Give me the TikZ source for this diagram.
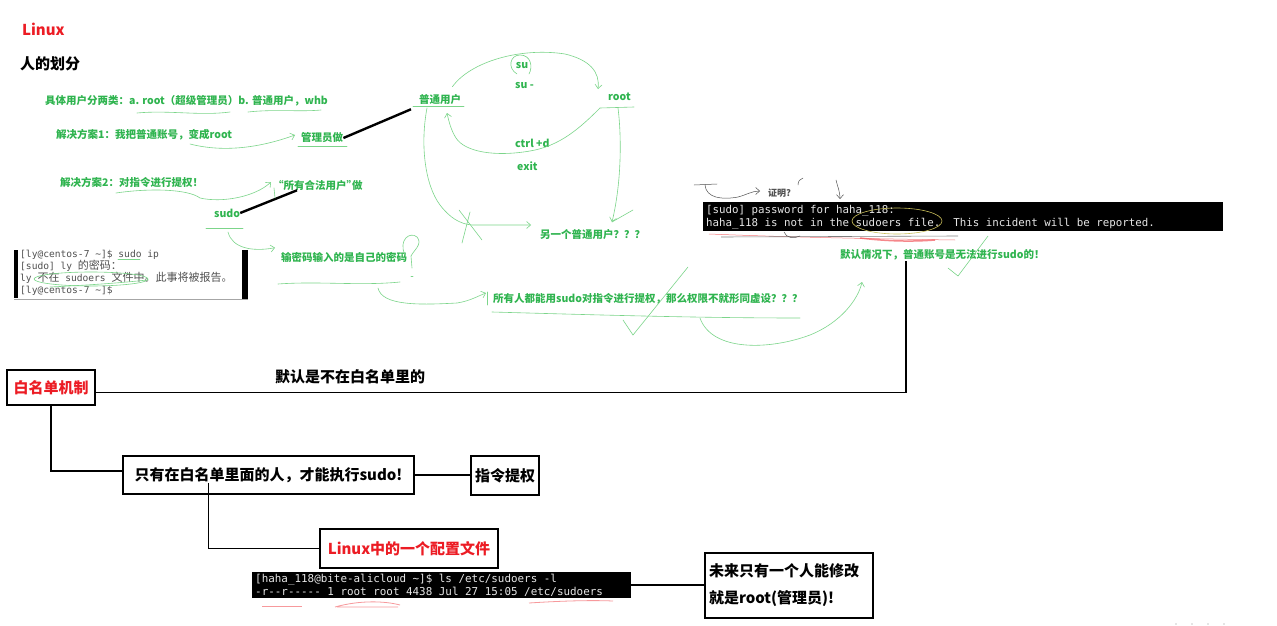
\documentclass[tikz,border=0pt]{standalone}
\usepackage{fontspec}
\setmainfont{Noto Sans CJK SC}
\setmonofont{DejaVu Sans Mono}
\usetikzlibrary{arrows.meta,calc}
\definecolor{NoteGreen}{HTML}{2FB44F}
\definecolor{InkGreen}{HTML}{7CD58A}
\definecolor{MarkRed}{HTML}{EC1C24}
\definecolor{InkRed}{HTML}{F2555A}
\definecolor{InkYellow}{HTML}{C9BE5A}
\definecolor{TermText}{HTML}{E6E6E6}
\definecolor{TermGray}{HTML}{505050}
\newcommand\termcjk[1]{{\rmfamily\fontsize{11}{12}\selectfont #1}}

\begin{document}
\begin{tikzpicture}[x=1pt,y=-1pt,
  note/.style={anchor=west,inner sep=0pt,text=NoteGreen,font=\bfseries\fontsize{10.5}{12}\selectfont},
  head/.style={anchor=west,inner sep=0pt,font=\bfseries\fontsize{15}{18}\selectfont},
  box/.style={draw,line width=1.5pt,inner sep=0pt,font=\bfseries\fontsize{15}{18}\selectfont},
  term/.style={fill=black,text=TermText,anchor=north west,inner xsep=3pt,inner ysep=0pt,align=flush left,font=\ttfamily\fontsize{10.8}{13}\selectfont},
  link/.style={line width=1.5pt},
  ink/.style={InkGreen,line width=.6pt,line cap=round},
  pen/.style={TermGray,line width=.5pt,line cap=round},
  tip/.style={-{Straight Barb[length=4pt,width=7pt]}}]
\path[use as bounding box,fill=white] (0,0) rectangle (1277,626);
\node[head,text=MarkRed] (ttl) at (22,29) {Linux};
\node[head] (sec) at (20,64) {人的划分};
\node[note] (kinds) at (45,101) {具体用户分两类：a. root（超级管理员）b. 普通用户，whb};
\node[note] (plan1) at (56,135) {解决方案1：我把普通账号，变成root};
\node[note] (mgr) at (301,138) {管理员做};
\node[note] (plan2) at (60,182) {解决方案2：对指令进行提权！};
\node[note] (legal) at (278,185) {\hspace*{-5pt}“所有合法用户”\hspace{-5pt}做};
\node[note] (sudo) at (214,213) {sudo};
\node[note] (pwd) at (281,257) {输密码输入的是自己的密码};
\node[note] (all) at (493,299) {所有人都能用sudo对指令进行提权，那么权限不就形同虚设？？？};
\node[note] (norm) at (419,100) {普通用户};
\node[note,anchor=center] (su) at (522,66) {su};
\node[note] (sudash) at (515,86) {su -};
\node[note] (root) at (608,97) {root};
\node[note] (ctrl) at (515,143) {ctrl +d};
\node[note] (exit) at (517,166) {exit};
\node[note] (other) at (540,235) {另一个普通用户？？？};
\node[note] (dflt) at (840,255) {默认情况下，普通账号是无法进行sudo的！};
\node[anchor=west,inner sep=0pt,text=TermGray,font=\bfseries\fontsize{9}{10}\selectfont] (proof) at (768,193) {证明?};
\draw[line width=2.4pt] (mgr.east) -- ($(norm.south west)+(-8,4)$);
\draw[line width=2.4pt] (sudo.east) -- ($(legal.south west)+(19,0)$);
\draw[ink] (137,113) .. controls (170,110) and (200,116) .. (230,112);
\draw[ink] (248,112) .. controls (275,109) and (300,112) .. (321,110);
\draw[ink,tip] (190,144) .. controls (225,153) and (262,147) .. ($(mgr.west)+(-6,-3)$);
\draw[ink] (298,146) -- (347,146);
\draw[ink] (413,106) -- (464,106);
\draw[ink,tip] (116,193) .. controls (150,188) and (188,189) .. (200,198) .. controls (222,203) and (255,197) .. ($(legal.west)+(-7,-3)$);
\draw[ink] (274,188) -- (275,198);
\draw[ink] (206,228) -- (243,228);
\draw[ink,tip] (228,232) .. controls (232,248) and (252,252) .. ($(pwd.north west)+(-6,-4)$);
\draw[ink] (405,255) .. controls (398,240) and (410,231) .. (417,237) .. controls (423,244) and (414,250) .. (411,256) -- (412,268);
\draw[ink] (411,276) -- (413,276);
\draw[ink] (278,284) .. controls (320,281) and (360,286) .. (400,282);
\draw[ink,tip] (378,288) .. controls (382,306) and (420,305) .. (457,303) .. controls (470,301) and (478,296) .. ($(all.west)+(-7,-6)$);
\draw[ink] (487,292) -- (487,305);
\draw[ink] (492,312) .. controls (600,315) and (700,318) .. (800,318);
\draw[ink] (623,320) -- (633,335) -- (688,267);
\draw[ink,tip] (700,318) .. controls (712,352) and (770,350) .. (810,335) .. controls (840,323) and (858,300) .. (862,282);
\draw[ink] (948,268) -- (958,276) -- (988,236);
\draw[ink,tip] ($(norm.north east)+(-9,-8)$) .. controls (470,62) and (520,47) .. (565,54) .. controls (590,60) and (600,72) .. (598,89);
\draw[ink] (517,74) .. controls (507,68) and (510,55) .. (520,55) .. controls (531,55) and (533,67) .. (529,74);
\draw[ink] (600,108) -- (634,107);
\draw[ink,tip] (600,108) .. controls (580,128) and (560,146) .. (530,151) .. controls (495,157) and (465,152) .. (456,138) .. controls (451,130) and (449,122) .. (447,113);
\draw[ink,tip] (427,108) .. controls (420,145) and (425,185) .. (440,205) .. controls (450,218) and (460,224) .. (472,225) -- ($(other.west)+(-9,-10)$);
\draw[ink] (459,210) -- (482,240) (470,212) -- (462,243);
\draw[ink,tip] (618,108) .. controls (622,140) and (621,185) .. (612,222);
\draw[ink] (612,222) -- (633,210);
\draw[pen] (694,185) -- (717,184);
\draw[pen,tip] (705,185) .. controls (706,198) and (722,200) .. (738,197) .. controls (746,195) and (752,191) .. ($(proof.west)+(-8,-2)$);
\draw[pen] (798,185) .. controls (798,181) and (800,179) .. (803,178);
\draw[pen,tip] (836,180) .. controls (838,188) and (840,192) .. (840,199);
\node[term,minimum width=520,minimum height=29,text width=514] (pw) at (703,202) {[sudo] password for haha\_118:\\haha\_118 is not in the sudoers file.\ \ This incident will be reported.};
\draw[InkYellow,line width=.6pt] (897,221) ellipse[x radius=45,y radius=13];
\draw[InkRed,line width=.5pt,opacity=.8] (709,234) .. controls (760,236) and (820,238) .. (955,240);
\draw[InkRed,line width=1.5pt,opacity=.7] (860,238) .. controls (885,241) and (910,242) .. (935,240);
\draw[gray,line width=.6pt] (721,237) -- (958,236);
\draw[pen] (784,232) .. controls (786,238) and (794,239) .. (800,236);
\node[anchor=north west,inner sep=0pt,align=left,text=TermGray,font=\ttfamily\fontsize{9.6}{12}\selectfont] (cent) at (20,250) {[ly@centos-7 \textasciitilde]\$ sudo ip\\\relax[sudo] ly \termcjk{的密码：}\\ly \termcjk{不在} sudoers \termcjk{文件中。此事将被报告。}\\\relax[ly@centos-7 \textasciitilde]\$};
\fill (14,250) rectangle (18,298);
\fill (242,250) rectangle (248,300);
\draw[gray!70,line width=.8pt] (14,299.5) -- (248,299.5);
\draw[ink] (118,259) -- (140,259);
\draw[ink] (91,279) ellipse[x radius=57,y radius=7];
\draw[ink] (50,287) .. controls (90,285) and (120,283) .. (147,280);
\node[box,text=MarkRed,minimum width=88,minimum height=35] (wl) at (51,387.5) {白名单机制};
\node[head] (notin) at (275,377) {默认是不在白名单里的};
\node[box,minimum width=291,minimum height=38] (only) at (268.5,475) {只有在白名单里面的人，才能执行sudo!};
\node[box,minimum width=68,minimum height=39] (cmd) at (505,475.5) {指令提权};
\node[box,text=MarkRed,minimum width=178,minimum height=39] (conf) at (409,548.5) {Linux中的一个配置文件};
\node[term,minimum width=379,minimum height=26,text width=373,font=\ttfamily\fontsize{10.9}{13}\selectfont] (ls) at (252,572) {[haha\_118@bite-alicloud \textasciitilde]\$ ls /etc/sudoers -l\\-r--r----- 1 root root 4438 Jul 27 15:05 /etc/sudoers};
\node[box,align=left,inner xsep=4pt,text width=160,minimum height=65,font=\bfseries\fontsize{15}{27}\selectfont] (future) at (789,585.5) {未来只有一个人能修改\\就是root(管理员)!};
\draw[link] ($(wl.east)+(0,5)$) -| ($(dflt.south west)+(66,0)$);
\draw[link] (wl.south) |- ($(only.west)+(0,-4)$);
\draw[link] (only.east) -- (only.east -| cmd.west);
\draw[link] ($(only.south west)+(86,-12)$) |- (conf.west);
\draw[link] (ls.east) -- (ls.east -| future.west);
\draw[InkRed!60,line width=.8pt] (262,606) -- (302,606);
\draw[InkRed!60,line width=.8pt] (335,607) .. controls (360,600) and (385,601) .. (400,605) (337,607) -- (398,607);
\draw[InkRed!60,line width=.8pt] (529,603) .. controls (560,601) and (590,600) .. (613,601);
\foreach \x in {1176,1192,1208,1224} \fill[gray!40] (\x,624) circle (.8);
\end{tikzpicture}
\end{document}
